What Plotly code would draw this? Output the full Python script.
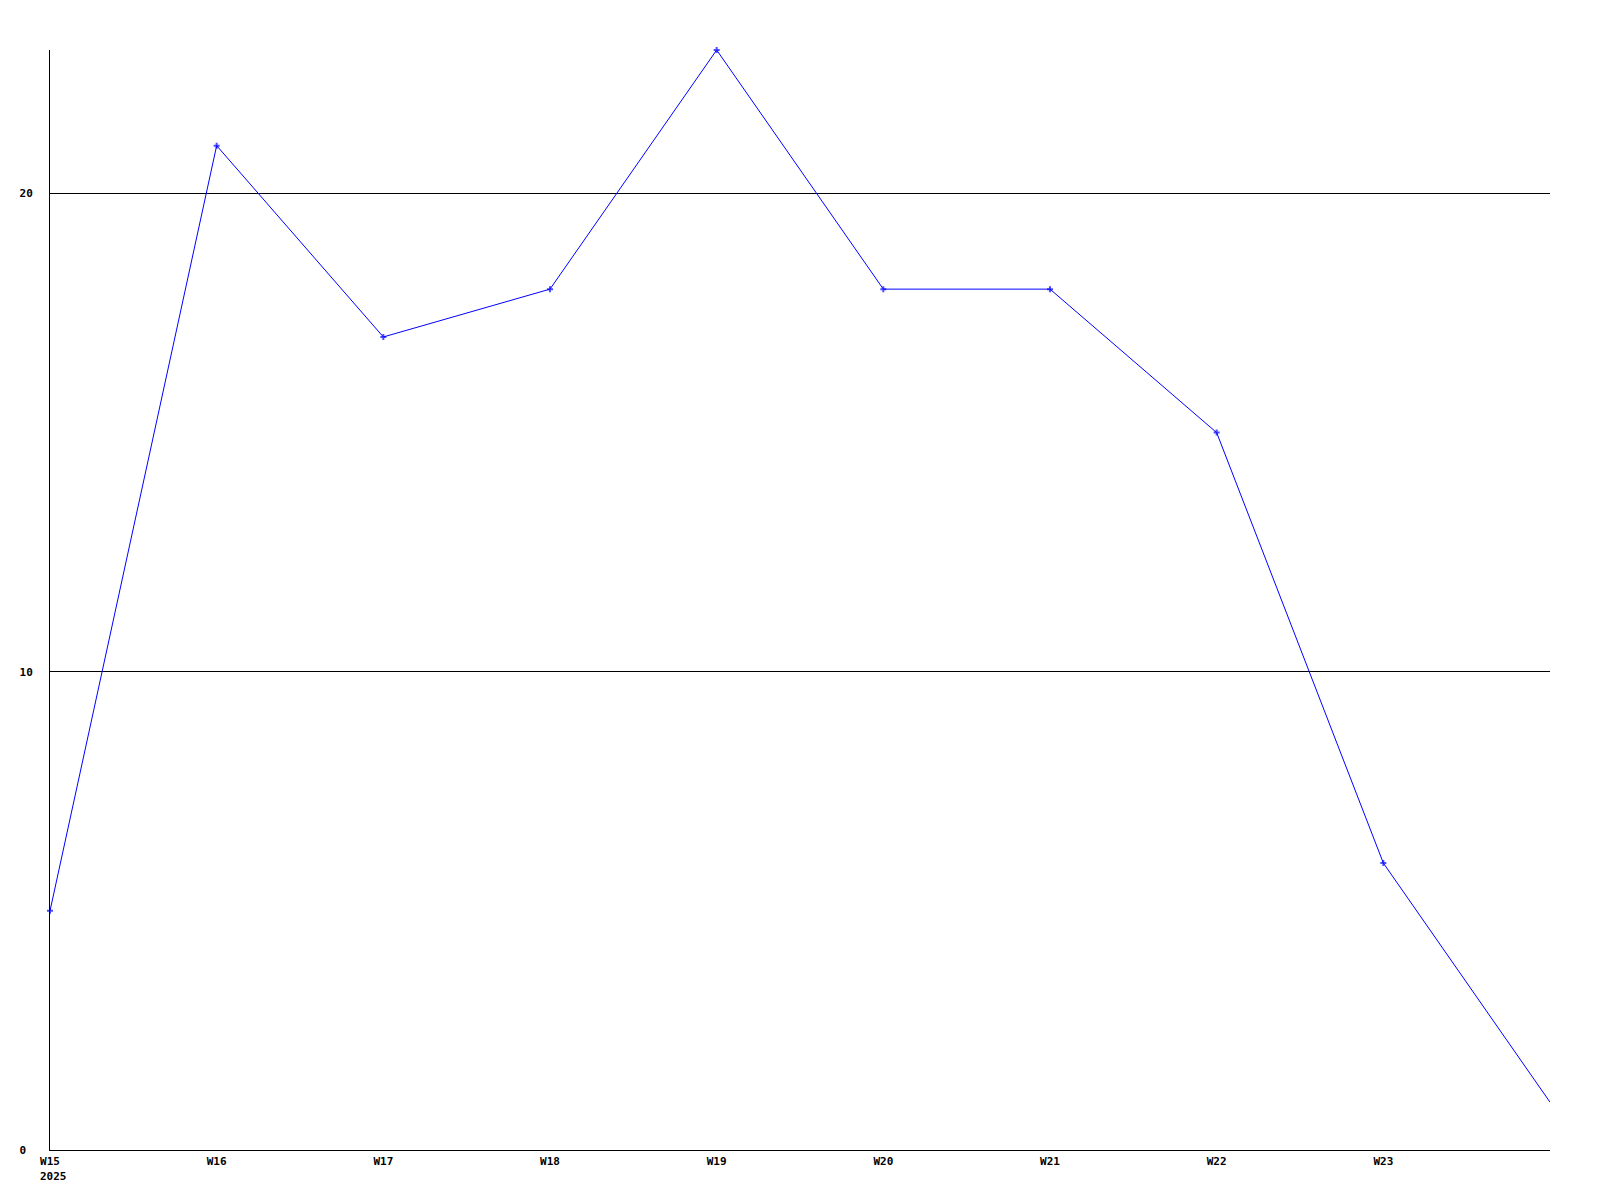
import plotly.graph_objects as go

weeks = ["W15", "W16", "W17", "W18", "W19", "W20", "W21", "W22", "W23", "W24"]
values = [5, 21, 17, 18, 23, 18, 18, 15, 6, 1]
tick_labels = ["W15", "W16", "W17", "W18", "W19", "W20", "W21", "W22", "W23"]
year_label = "2025"
y_ticks = [0, 10, 20]

font = dict(family="DejaVu Sans Mono", size=11, color="black")

marker_sizes = [5] * (len(weeks) - 1) + [0]

# left-align y tick labels (monospace): pad short labels with non-breaking spaces
max_len = max(len(str(v)) for v in y_ticks)
y_text = [f"<b>{v}</b>" + "\u00a0" * (max_len - len(str(v))) for v in y_ticks]

fig = go.Figure()
fig.add_trace(go.Scatter(
    x=list(range(len(weeks))), y=values, mode="lines+markers",
    line=dict(color="#0000ff", width=1),
    marker=dict(symbol="cross", size=marker_sizes, color="#0000ff", line=dict(width=0)),
    cliponaxis=False, hoverinfo="x+y", text=weeks,
))

fig.update_layout(
    width=1584, height=1184,
    margin=dict(l=42, r=42, t=42, b=42),
    paper_bgcolor="white", plot_bgcolor="white",
    showlegend=False,
    font=font,
    xaxis=dict(
        range=[0, len(weeks) - 1],
        tickvals=list(range(len(tick_labels))), ticktext=[f"<b>{t}</b>" for t in tick_labels],
        showgrid=False, zeroline=False, showline=True, linecolor="black", linewidth=1,
        ticks="", tickfont=font, ticklabelstandoff=1,
    ),
    yaxis=dict(
        range=[0, 23],
        tickvals=y_ticks, ticktext=y_text,
        showgrid=True, gridcolor="black", gridwidth=1,
        zeroline=False, showline=True, linecolor="black", linewidth=1,
        ticks="", tickfont=font, ticklabelstandoff=14,
    ),
)
fig.add_annotation(
    x=0, y=0, xref="x", yref="paper", text=f"<b>{year_label}</b>",
    showarrow=False, xanchor="left", yanchor="top", xshift=-12, yshift=-18,
    font=font,
)

fig.write_html("out.html")
